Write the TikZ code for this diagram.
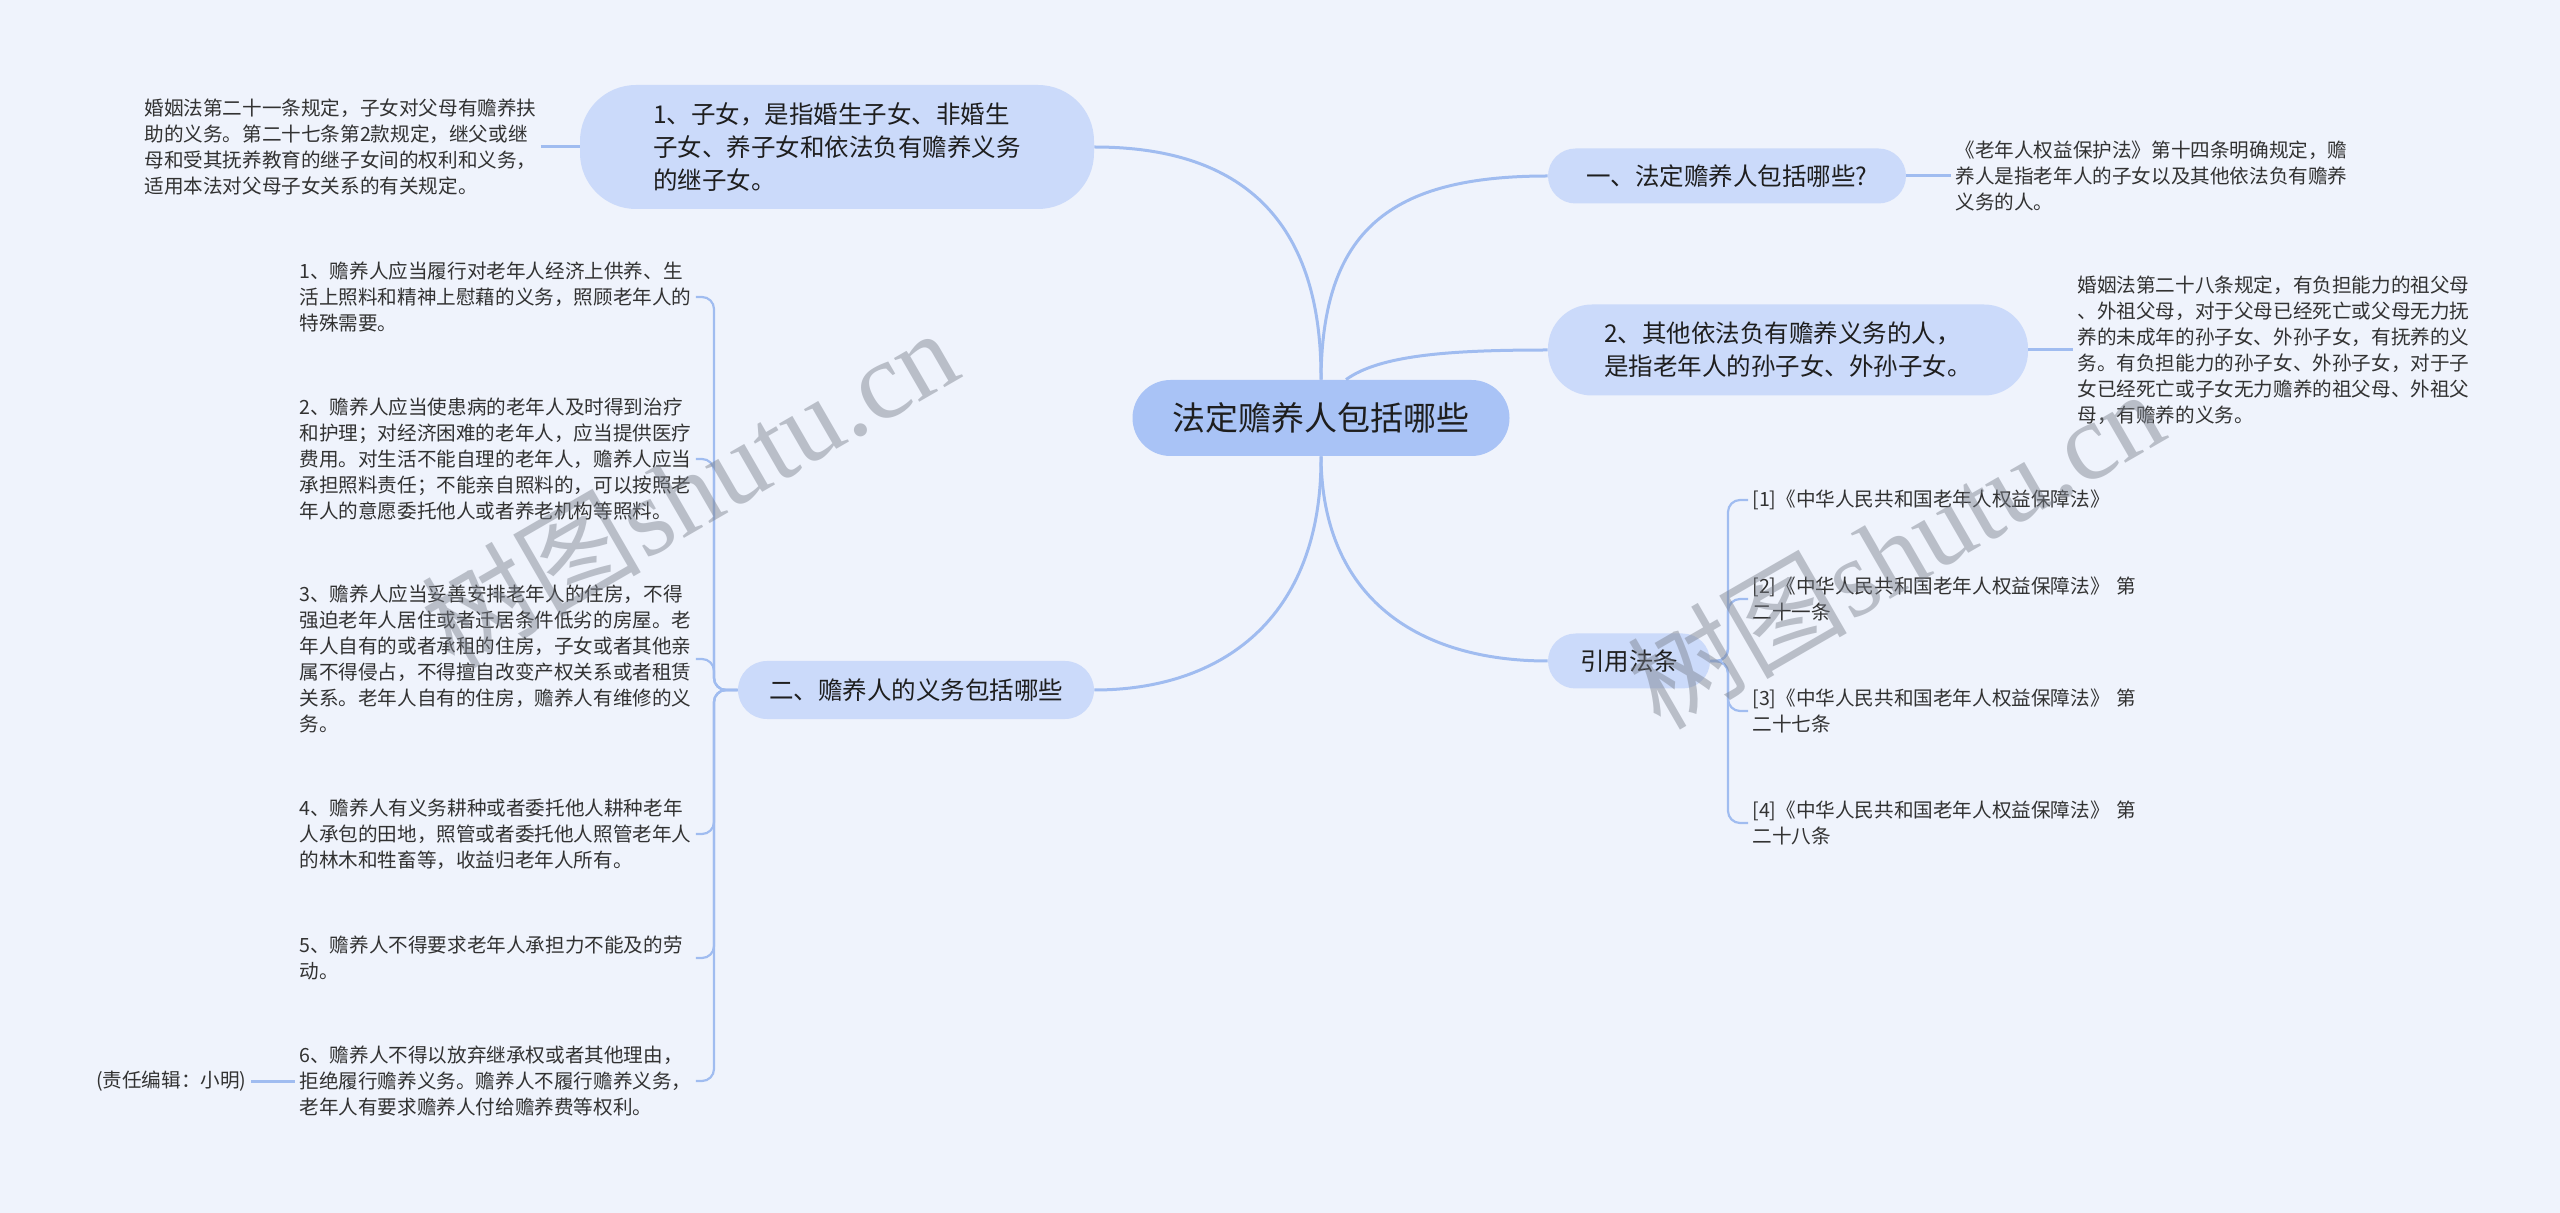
\documentclass[tikz,border=0pt]{standalone}
\usepackage{fontspec}
\setmainfont{Noto Sans CJK SC}
\newfontfamily\wmfont{Liberation Serif}

\definecolor{bgcol}{RGB}{239,243,252}
\definecolor{rootfill}{RGB}{169,195,246}
\definecolor{topicfill}{RGB}{203,218,250}
\definecolor{linkcol}{RGB}{160,188,240}
\definecolor{inkcol}{RGB}{30,30,30}
\definecolor{notecol}{RGB}{50,50,50}
\definecolor{wmcol}{RGB}{120,126,138}

\begin{document}
\begin{tikzpicture}[x=0.5pt, y=-0.5pt,
    link/.style = {draw=linkcol, line width=1.5pt},
    twig/.style = {draw=linkcol, line width=1.1pt, rounded corners=6pt},
    root/.style = {
      fill = rootfill,
      rounded corners = 19pt,
      minimum width = 188.5pt,
      minimum height = 38pt,
      text = inkcol,
      font = \fontsize{16.5pt}{20pt}\selectfont
    },
    topic/.style = {
      fill = topicfill,
      text = inkcol,
      align = left,
      font = \fontsize{12.25pt}{16.5pt}\selectfont
    },
    note/.style = {
      text = notecol,
      align = left,
      inner xsep = 2pt,
      inner ysep = 0pt,
      text width = 196pt,
      font = \fontsize{9.8pt}{13pt}\selectfont
    },
    tag/.style = {
      text = notecol,
      inner xsep = 2pt,
      font = \fontsize{9.8pt}{13pt}\selectfont
    },
    wmark/.style = {
      text = wmcol,
      opacity = 0.45,
      rotate = 30,
      font = \fontsize{55pt}{60pt}\selectfont
    }
  ]
  \useasboundingbox (0,0) rectangle (2560,1213);
  \fill[bgcol] (0,0) rectangle (2560,1213);

  % centre
  \node[root] (root) at (1321,418) {法定赡养人包括哪些};

  % main topics
  \node[topic, minimum width=257pt, minimum height=62pt, rounded corners=28pt] (zinv) at (837,147)
    {1、子女，是指婚生子女、非婚生\\子女、养子女和依法负有赡养义务\\的继子女。};
  \node[topic, minimum width=178pt, minimum height=29pt, rounded corners=14.5pt] (duty) at (916,690)
    {二、赡养人的义务包括哪些};
  \node[topic, minimum width=179pt, minimum height=27.5pt, rounded corners=13.75pt] (yi) at (1727,176)
    {一、法定赡养人包括哪些?};
  \node[topic, minimum width=240pt, minimum height=45.5pt, rounded corners=22pt] (other) at (1788,350)
    {2、其他依法负有赡养义务的人，\\是指老年人的孙子女、外孙子女。};
  \node[topic, minimum width=81pt, minimum height=27.5pt, rounded corners=13.75pt] (cite) at (1629,661)
    {引用法条};

  % notes
  \node[note, anchor=west] (zinvnote) at (140,147)
    {婚姻法第二十一条规定，子女对父母有赡养扶\\助的义务。第二十七条第2款规定，继父或继\\母和受其抚养教育的继子女间的权利和义务，\\适用本法对父母子女关系的有关规定。};
  \node[note, anchor=west] (yinote) at (1951,176)
    {《老年人权益保护法》第十四条明确规定，赡\\养人是指老年人的子女以及其他依法负有赡养\\义务的人。};
  \node[note, anchor=west] (othernote) at (2073,350)
    {婚姻法第二十八条规定，有负担能力的祖父母\\、外祖父母，对于父母已经死亡或父母无力抚\\养的未成年的孙子女、外孙子女，有抚养的义\\务。有负担能力的孙子女、外孙子女，对于子\\女已经死亡或子女无力赡养的祖父母、外祖父\\母，有赡养的义务。};

  % duties
  \node[note, anchor=west] (duty1) at (295,297)
    {1、赡养人应当履行对老年人经济上供养、生\\活上照料和精神上慰藉的义务，照顾老年人的\\特殊需要。};
  \node[note, anchor=west] (duty2) at (295,459)
    {2、赡养人应当使患病的老年人及时得到治疗\\和护理；对经济困难的老年人，应当提供医疗\\费用。对生活不能自理的老年人，赡养人应当\\承担照料责任；不能亲自照料的，可以按照老\\年人的意愿委托他人或者养老机构等照料。};
  \node[note, anchor=west] (duty3) at (295,659)
    {3、赡养人应当妥善安排老年人的住房，不得\\强迫老年人居住或者迁居条件低劣的房屋。老\\年人自有的或者承租的住房，子女或者其他亲\\属不得侵占，不得擅自改变产权关系或者租赁\\关系。老年人自有的住房，赡养人有维修的义\\务。};
  \node[note, anchor=west] (duty4) at (295,834)
    {4、赡养人有义务耕种或者委托他人耕种老年\\人承包的田地，照管或者委托他人照管老年人\\的林木和牲畜等，收益归老年人所有。};
  \node[note, anchor=west] (duty5) at (295,958)
    {5、赡养人不得要求老年人承担力不能及的劳\\动。};
  \node[note, anchor=west] (duty6) at (295,1081)
    {6、赡养人不得以放弃继承权或者其他理由，\\拒绝履行赡养义务。赡养人不履行赡养义务，\\老年人有要求赡养人付给赡养费等权利。};
  \node[tag, anchor=east] (editor) at (251,1081) {(责任编辑：小明)};

  % cited laws
  \node[note, anchor=west] (ref1) at (1748,500) {[1]《中华人民共和国老年人权益保障法》};
  \node[note, anchor=west] (ref2) at (1748,599) {[2]《中华人民共和国老年人权益保障法》 第\\二十一条};
  \node[note, anchor=west] (ref3) at (1748,711) {[3]《中华人民共和国老年人权益保障法》 第\\二十七条};
  \node[note, anchor=west] (ref4) at (1748,823) {[4]《中华人民共和国老年人权益保障法》 第\\二十八条};

  % links from the centre
  \draw[link] (root.north) .. controls (1322,230) and (1390,176) .. (yi.west);
  \draw[link] ([xshift=12.5pt]root.north) .. controls (1380,355) and (1450,350) .. (other.west);
  \draw[link] (root.north) .. controls (1322,200) and (1220,147) .. (zinv.east);
  \draw[link] (root.south) .. controls (1322,620) and (1220,690) .. (duty.east);
  \draw[link] (root.south) .. controls (1322,600) and (1420,661) .. (cite.west);

  \draw[link] (zinvnote.east) -- (zinv.west);
  \draw[link] (yi.east) -- (yinote.west);
  \draw[link] (other.east) -- (othernote.west);
  \draw[link] (editor.east) -- (duty6.west);

  \coordinate (dutyfork) at (714,690);
  \foreach \k in {1,...,6}
    \draw[twig] (duty.west) -- (dutyfork) |- (duty\k.east);

  \coordinate (citefork) at (1728,661);
  \foreach \k in {1,...,4}
    \draw[twig] (cite.east) -- (citefork) |- (ref\k.west);

  % watermark
  \node[wmark] (wmleft) at (689,487) {树图{\wmfont shutu.cn}};
  \node[wmark] (wmright) at (1895,548) {树图{\wmfont shutu.cn}};
\end{tikzpicture}
\end{document}
